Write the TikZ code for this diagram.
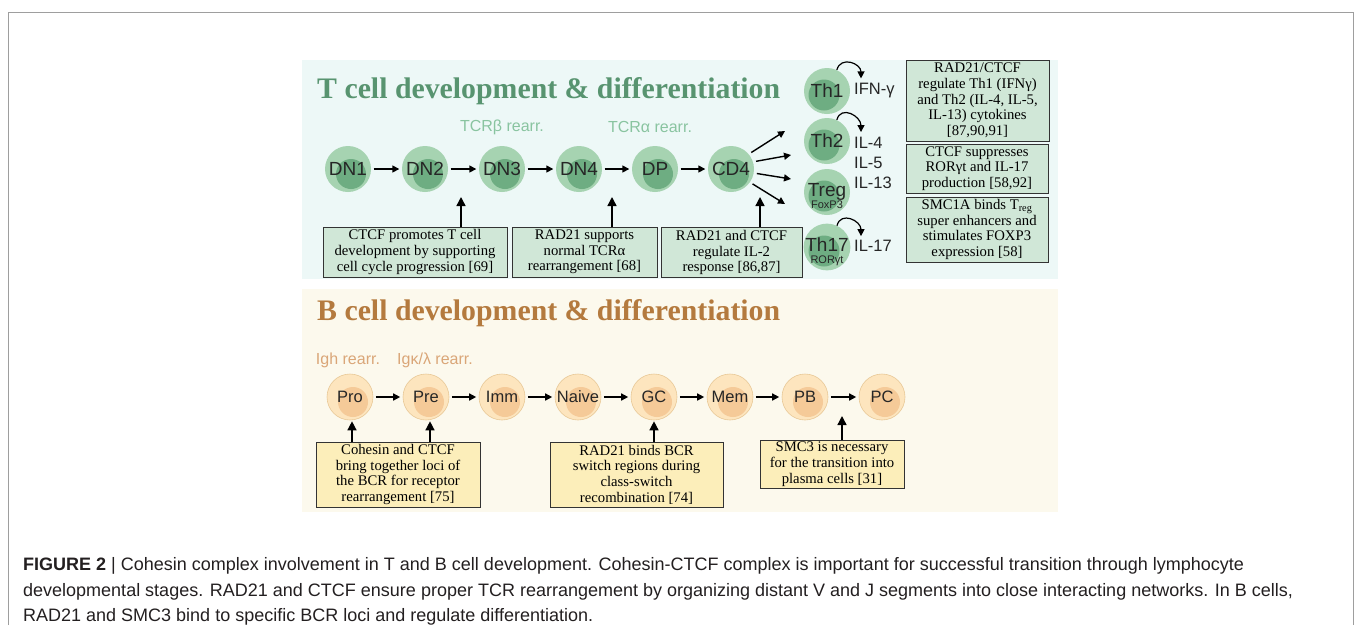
\documentclass[tikz,border=0pt]{standalone}
\usepackage{fontspec}
\setmainfont{Liberation Serif}
\setsansfont{Liberation Sans}
\usetikzlibrary{arrows.meta}

\definecolor{tback}{RGB}{237,248,247}
\definecolor{touter}{RGB}{166,211,177}
\definecolor{tinner}{RGB}{110,173,130}
\definecolor{tbox}{RGB}{208,231,215}
\definecolor{ttitle}{RGB}{88,148,112}
\definecolor{trearr}{RGB}{137,196,160}
\definecolor{bback}{RGB}{252,249,237}
\definecolor{bouter}{RGB}{253,229,190}
\definecolor{bring}{RGB}{232,200,150}
\definecolor{binner}{RGB}{245,202,152}
\definecolor{bbox}{RGB}{252,238,186}
\definecolor{btitle}{RGB}{180,122,62}
\definecolor{brearr}{RGB}{218,166,120}
\definecolor{inktext}{RGB}{35,31,32}

\tikzset{
  tcell/.style={circle,minimum size=46pt,inner sep=0pt,fill=touter,
    text=black!85,font=\sffamily\fontsize{19}{19}\selectfont,
    path picture={\fill[tinner] ([shift={(3,5)}]path picture bounding box.center) circle (15pt);}},
  thcell/.style={tcell,
    path picture={\fill[tinner] ([shift={(-3,4)}]path picture bounding box.center) circle (15.5pt);}},
  bcell/.style={circle,minimum size=46pt,inner sep=0pt,fill=bouter,draw=bring,line width=0.6pt,
    text=black!85,font=\sffamily\fontsize{16.5}{16.5}\selectfont,
    path picture={\fill[binner] ([shift={(3,5)}]path picture bounding box.center) circle (15pt);}},
  sublab/.style={font=\sffamily\fontsize{11}{11}\selectfont,text=black!85,inner sep=0pt},
  tnote/.style={draw=black!80,line width=1pt,fill=tbox,align=center,inner sep=0pt,
    font=\fontsize{14.7}{15.7}\selectfont},
  bnote/.style={tnote,fill=bbox},
  cyto/.style={font=\sffamily\fontsize{16.5}{20}\selectfont,inner sep=0pt,text=black!85},
  rearr/.style={font=\sffamily\fontsize{16}{16}\selectfont,inner sep=0pt},
  paneltitle/.style={font=\bfseries\fontsize{29.8}{30}\selectfont,inner sep=0pt,anchor=base west},
  arr/.style={draw,line width=1.4pt,-{Triangle[length=7pt,width=7pt]}},
  uparr/.style={draw,line width=1.4pt,-{Triangle[length=9pt,width=9pt]}}
}

\begin{document}
\begin{tikzpicture}[x=1pt,y=-1pt]

  \useasboundingbox (0,0) rectangle (1354,625);
  \draw[black!38,line width=1pt] (8.5,625) -- (8.5,12.5) -- (1353,12.5) -- (1353,625);

  % panels
  \fill[tback] (302,60) rectangle (1058,279);
  \fill[bback] (302,289) rectangle (1058,512);

  \node[paneltitle,text=ttitle] (ttl) at (317,98) {T cell development \& differentiation};
  \node[paneltitle,text=btitle] (btl) at (317,320) {B cell development \& differentiation};

  % T cells
  \begin{scope}[every node/.style={tcell}]
    \node (dn1) at (348,169) {DN1};
    \node (dn2) at (425,169) {DN2};
    \node (dn3) at (502,169) {DN3};
    \node (dn4) at (579,169) {DN4};
    \node (dp)  at (655,169) {DP};
    \node (cd4) at (731,169) {CD4};
  \end{scope}

  \begin{scope}[every node/.style={thcell}]
    \node (th1) at (827,91)  {Th1};
    \node (th2) at (827,141) {Th2};
  \end{scope}
  \node[thcell,text depth=4pt,label={[sublab,label distance=-15pt]below:FoxP3}] (treg) at (827,192) {Treg};
  \node[thcell,text depth=4pt,label={[sublab,label distance=-15pt]below:RORγt}] (th17) at (827,247) {Th17};

  \node[rearr,text=trearr] (rb) at (502,127) {TCRβ rearr.};
  \node[rearr,text=trearr] (ra) at (650,127) {TCRα rearr.};

  \begin{scope}[every edge/.style={arr,shorten <=2.5pt,shorten >=2.5pt}]
    \path (dn1) edge (dn2);
    \path (dn2) edge (dn3);
    \path (dn3) edge (dn4);
    \path (dn4) edge (dp);
    \path (dp)  edge (cd4);
  \end{scope}

  \coordinate (f1) at (785,131);
  \coordinate (f2) at (791,155);
  \coordinate (f3) at (791,179);
  \coordinate (f4) at (785,204);
  \path[arr,shorten <=3pt] (cd4.40)  -- (f1);
  \path[arr,shorten <=3pt] (cd4.18)  -- (f2);
  \path[arr,shorten <=3pt] (cd4.-10) -- (f3);
  \path[arr,shorten <=3pt] (cd4.-35) -- (f4);

  % cytokines
  \node[cyto,anchor=west] (ifn)  at (854,91)  {IFN-γ};
  \node[cyto,anchor=west,align=left] (il) at (854,163) {IL-4\\IL-5\\IL-13};
  \node[cyto,anchor=west] (il17) at (854,246) {IL-17};

  \path[arr,line width=1.2pt] (th1.65)  to[out=75,in=90,looseness=1.5] ([xshift=7pt,yshift=5pt]ifn.north west);
  \path[arr,line width=1.2pt] (th2.65)  to[out=75,in=90,looseness=1.5] ([xshift=7pt,yshift=5pt]il.north west);
  \path[arr,line width=1.2pt] (th17.65) to[out=75,in=90,looseness=1.5] ([xshift=7pt,yshift=4pt]il17.north west);

  % T notes
  \begin{scope}[every node/.style={tnote}]
    \node[minimum width=184pt,minimum height=50pt] (tn1) at (415,252)
      {CTCF promotes T cell\\development by supporting\\cell cycle progression [69]};
    \node[minimum width=145pt,minimum height=50pt] (tn2) at (584.5,252)
      {RAD21 supports\\normal TCRα\\rearrangement [68]};
    \node[minimum width=141pt,minimum height=50pt] (tn3) at (731.5,252.5)
      {RAD21 and CTCF\\regulate IL-2\\response [86,87]};
    \node[minimum width=143pt,minimum height=81pt] (rn1) at (977.5,100.5)
      {RAD21/CTCF\\regulate Th1 (IFNγ)\\and Th2 (IL-4, IL-5,\\IL-13) cytokines\\{}[87,90,91]};
    \node[minimum width=142pt,minimum height=49pt] (rn2) at (977,168.5)
      {CTCF suppresses\\RORγt and IL-17\\production [58,92]};
    \node[minimum width=142pt,minimum height=65pt] (rn3) at (977,229.5)
      {SMC1A binds T\textsubscript{reg}\\super enhancers and\\stimulates FOXP3\\expression [58]};
  \end{scope}

  \coordinate (t23) at (461,197);
  \coordinate (t45) at (612,197);
  \coordinate (tfan) at (760,197);
  \path[uparr] (t23 |- tn1.north) -- (t23);
  \path[uparr] (t45 |- tn2.north) -- (t45);
  \path[uparr] (tfan |- tn3.north) -- (tfan);

  % B cells
  \begin{scope}[every node/.style={bcell}]
    \node (pro)   at (350,397) {Pro};
    \node (pre)   at (426,397) {Pre};
    \node (imm)   at (502,397) {Imm};
    \node (naive) at (578,397) {Naive};
    \node (gc)    at (654,397) {GC};
    \node (mem)   at (730,397) {Mem};
    \node (pb)    at (805,397) {PB};
    \node (pc)    at (882,397) {PC};
  \end{scope}

  \node[rearr,text=brearr] (igh) at (348,360) {Igh rearr.};
  \node[rearr,text=brearr] (igk) at (435,360) {Igκ/λ rearr.};

  \begin{scope}[every edge/.style={arr,shorten <=2.5pt,shorten >=2.5pt}]
    \path (pro)   edge (pre);
    \path (pre)   edge (imm);
    \path (imm)   edge (naive);
    \path (naive) edge (gc);
    \path (gc)    edge (mem);
    \path (mem)   edge (pb);
    \path (pb)    edge (pc);
  \end{scope}

  % B notes
  \begin{scope}[every node/.style={bnote}]
    \node[minimum width=164pt,minimum height=65pt] (bn1) at (398,474.5)
      {Cohesin and CTCF\\bring together loci of\\the BCR for receptor\\rearrangement [75]};
    \node[minimum width=173pt,minimum height=65pt] (bn2) at (636.5,474.5)
      {RAD21 binds BCR\\switch regions during\\class-switch\\recombination [74]};
    \node[minimum width=144pt,minimum height=48pt] (bn3) at (832,464)
      {SMC3 is necessary\\for the transition into\\plasma cells [31]};
  \end{scope}

  \coordinate (bpbpc) at (842,416);
  \path[uparr,shorten >=1pt] ([xshift=2pt]pro.south |- bn1.north) -- ([xshift=2pt]pro.south);
  \path[uparr,shorten >=1pt] ([xshift=4pt]pre.south |- bn1.north) -- ([xshift=4pt]pre.south);
  \path[uparr,shorten >=1pt] (gc.south |- bn2.north) -- (gc.south);
  \path[uparr] (bpbpc |- bn3.north) -- (bpbpc);

  % caption
  \node[anchor=north west,align=left,inner sep=0pt,text=inktext,
        font=\sffamily\fontsize{18}{25.5}\selectfont] (cap) at (23,557.5)
    {{\bfseries FIGURE 2} | Cohesin complex involvement in T and B cell development. Cohesin-CTCF complex is important for successful transition through lymphocyte\\
     developmental stages. RAD21 and CTCF ensure proper TCR rearrangement by organizing distant V and J segments into close interacting networks. In B cells,\\
     RAD21 and SMC3 bind to specific BCR loci and regulate differentiation.};

\end{tikzpicture}
\end{document}
